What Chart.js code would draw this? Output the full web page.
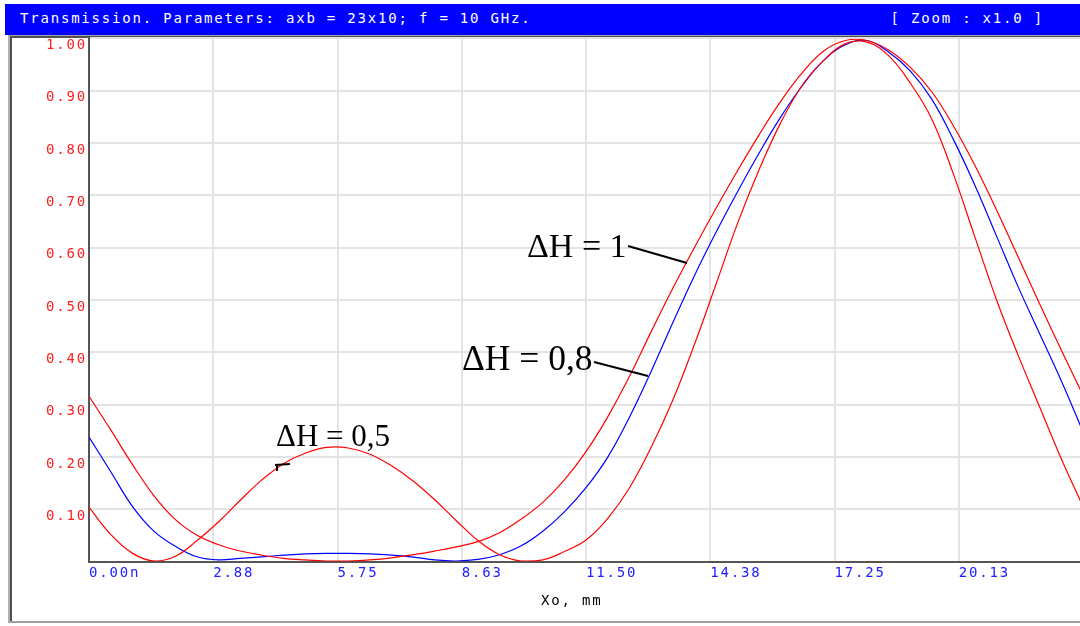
<!DOCTYPE html>
<html>
<head>
<meta charset="utf-8">
<script src="https://cdn.jsdelivr.net/npm/chart.js@4.4.1/dist/chart.umd.min.js"></script>
<style>
  body { margin: 0; background: #fff; overflow: hidden; }
  #wrap { position: relative; width: 1080px; height: 626px; overflow: hidden; }
  .bar {
    position: absolute; left: 5px; top: 4px; width: 1080px; height: 31px;
    background: #0000ff; color: #fff;
    font: 14px "DejaVu Sans Mono", monospace; letter-spacing: 1.8px; line-height: 29px;
    white-space: pre;
  }
  .bar .left { position: absolute; left: 15px; top: 0; }
  .bar .right { position: absolute; right: 41px; top: 0; }
  .frame {
    position: absolute; left: 8px; top: 35px; width: 1100px; height: 585px;
    border-left: 2px solid #b0b0b0; border-top: 1px solid #a0a0a0; border-bottom: 2px solid #a0a0a0;
    box-shadow: inset 2px 2px 0 #505050;
  }
  #chart { position: absolute; left: 0; top: 0; }
</style>
</head>
<body>
<div id="wrap">
  <div class="bar"><span class="left">Transmission. Parameters: axb = 23x10; f = 10 GHz.</span><span class="right">[ Zoom : x1.0 ]</span></div>
  <div class="frame"></div>
  <canvas id="chart" width="1100" height="626"></canvas>
</div>

<script>
// ================= DATA =================
const xValues = [
  0, 0.5, 1, 1.5, 2, 2.5, 3, 3.5, 4, 4.5, 5, 5.5, 6, 6.5, 7, 7.5,
  8, 8.5, 9, 9.5, 10, 10.5, 11, 11.5, 12, 12.5, 13, 13.5, 14, 14.5, 15, 15.5,
  16, 16.5, 17, 17.5, 18, 18.5, 19, 19.5, 20, 20.5, 21, 21.5, 22, 22.5, 23
];

// ΔH = 1 (red, outer)
const dh1 = [
  0.316, 0.252, 0.186, 0.126, 0.080, 0.050, 0.032, 0.020, 0.012, 0.006, 0.003, 0.001, 0.001, 0.003, 0.007, 0.013,
  0.020, 0.028, 0.038, 0.055, 0.081, 0.113, 0.156, 0.210, 0.276, 0.353, 0.438, 0.521, 0.599, 0.674, 0.746, 0.815,
  0.879, 0.934, 0.976, 0.996, 0.996, 0.978, 0.945, 0.898, 0.833, 0.757, 0.672, 0.582, 0.492, 0.404, 0.318
];

// ΔH = 0,8 (blue)
const dh08 = [
  0.238, 0.172, 0.106, 0.058, 0.029, 0.009, 0.003, 0.006, 0.009, 0.012, 0.0145, 0.0155, 0.0155, 0.0145, 0.012, 0.0085,
  0.003, 0.001, 0.004, 0.013, 0.030, 0.058, 0.095, 0.141, 0.199, 0.275, 0.362, 0.455, 0.545, 0.628, 0.706, 0.780,
  0.849, 0.909, 0.958, 0.988, 0.996, 0.974, 0.938, 0.884, 0.807, 0.719, 0.622, 0.525, 0.435, 0.345, 0.248
];

// ΔH = 0,5 (red, inner)
const dh05 = [
  0.104, 0.052, 0.016, 0.001, 0.010, 0.040, 0.076, 0.117, 0.156, 0.187, 0.207, 0.218, 0.217, 0.205, 0.183, 0.154,
  0.118, 0.078, 0.040, 0.013, 0.001, 0.003, 0.019, 0.041, 0.082, 0.140, 0.217, 0.307, 0.413, 0.528, 0.645, 0.748,
  0.838, 0.910, 0.958, 0.990, 0.993, 0.967, 0.915, 0.846, 0.741, 0.620, 0.500, 0.394, 0.295, 0.196, 0.105
];

const xTickValues = [0, 2.875, 5.75, 8.625, 11.5, 14.375, 17.25, 20.125, 23];
const xTickLabels = ["0.00n", "2.88", "5.75", "8.63", "11.50", "14.38", "17.25", "20.13", ""];
const yTickValues = [0, 0.1, 0.2, 0.3, 0.4, 0.5, 0.6, 0.7, 0.8, 0.9, 1.0];
const yTickLabels = ["", "0.10", "0.20", "0.30", "0.40", "0.50", "0.60", "0.70", "0.80", "0.90", "1.00"];


// ================= HELPERS =================
const monoFont = { family: "DejaVu Sans Mono", size: 14 };

function toPoints(values) {
  return xValues.map((x, i) => ({ x, y: values[i] }));
}

function curve(label, values, color) {
  return {
    label,
    data: toPoints(values),
    borderColor: color,
    borderWidth: 1.2,
    pointRadius: 0,
    fill: false,
    tension: 0.4
  };
}


// ================= TEXT + LABELS PLUGIN =================
const labelsPlugin = {
  id: "labels",
  beforeDraw(chart) {
    chart.ctx.letterSpacing = "1.8px";
  },
  afterDraw(chart) {
    const ctx = chart.ctx;
    ctx.save();

    // axis title
    ctx.letterSpacing = "1.8px";
    ctx.fillStyle = "#000";
    ctx.font = '14px "DejaVu Sans Mono"';
    ctx.textAlign = "left";
    ctx.textBaseline = "middle";
    ctx.fillText("Xo, mm", 541, 601);

    // curve annotations
    ctx.letterSpacing = "0px";
    ctx.textBaseline = "alphabetic";
    ctx.font = '34px "Liberation Serif"';
    ctx.fillText("ΔH = 1", 527, 257);
    ctx.font = '35.5px "Liberation Serif"';
    ctx.fillText("ΔH = 0,8", 462, 370);
    ctx.font = '31px "Liberation Serif"';
    ctx.fillText("ΔH = 0,5", 276, 446);

    ctx.strokeStyle = "#000";
    ctx.lineWidth = 2;
    ctx.beginPath();
    ctx.moveTo(628, 246); ctx.lineTo(687, 263);
    ctx.moveTo(594, 362); ctx.lineTo(648, 376);
    ctx.moveTo(275, 465); ctx.lineTo(290, 464);
    ctx.moveTo(277, 465); ctx.lineTo(277, 471);
    ctx.stroke();

    ctx.restore();
  }
};


// ================= CHART =================
new Chart(document.getElementById("chart"), {
  type: "line",
  data: {
    datasets: [
      curve("ΔH = 1", dh1, "#ff0000"),
      curve("ΔH = 0,5", dh05, "#ff0000"),
      curve("ΔH = 0,8", dh08, "#0000ff")
    ]
  },
  options: {
    responsive: false,
    animation: false,
    layout: { padding: { left: 0, top: 38.4, right: 17, bottom: 0 } },
    plugins: {
      legend: { display: false },
      tooltip: { enabled: false }
    },
    scales: {
      x: {
        type: "linear",
        min: 0,
        max: 23,
        afterBuildTicks: s => { s.ticks = xTickValues.map(v => ({ value: v })); },
        afterFit: s => { s.height = 64.5; },
        grid: { color: "#e4e4e4", lineWidth: 2, drawTicks: false },
        border: { color: "#555", width: 2 },
        ticks: {
          autoSkip: false,
          maxRotation: 0,
          align: "start",
          padding: 3,
          color: "#2020ff",
          font: monoFont,
          callback: (v, i) => xTickLabels[i]
        }
      },
      y: {
        type: "linear",
        min: 0,
        max: 1,
        afterBuildTicks: s => { s.ticks = yTickValues.map(v => ({ value: v })); },
        afterFit: s => { s.width = 89; },
        grid: { color: "#e4e4e4", lineWidth: 2, drawTicks: false },
        border: { color: "#555", width: 2 },
        ticks: {
          padding: 2,
          labelOffset: 7,
          color: "#ff2020",
          font: monoFont,
          callback: (v, i) => yTickLabels[i]
        }
      }
    }
  },
  plugins: [labelsPlugin]
});
</script>
</body>
</html>
